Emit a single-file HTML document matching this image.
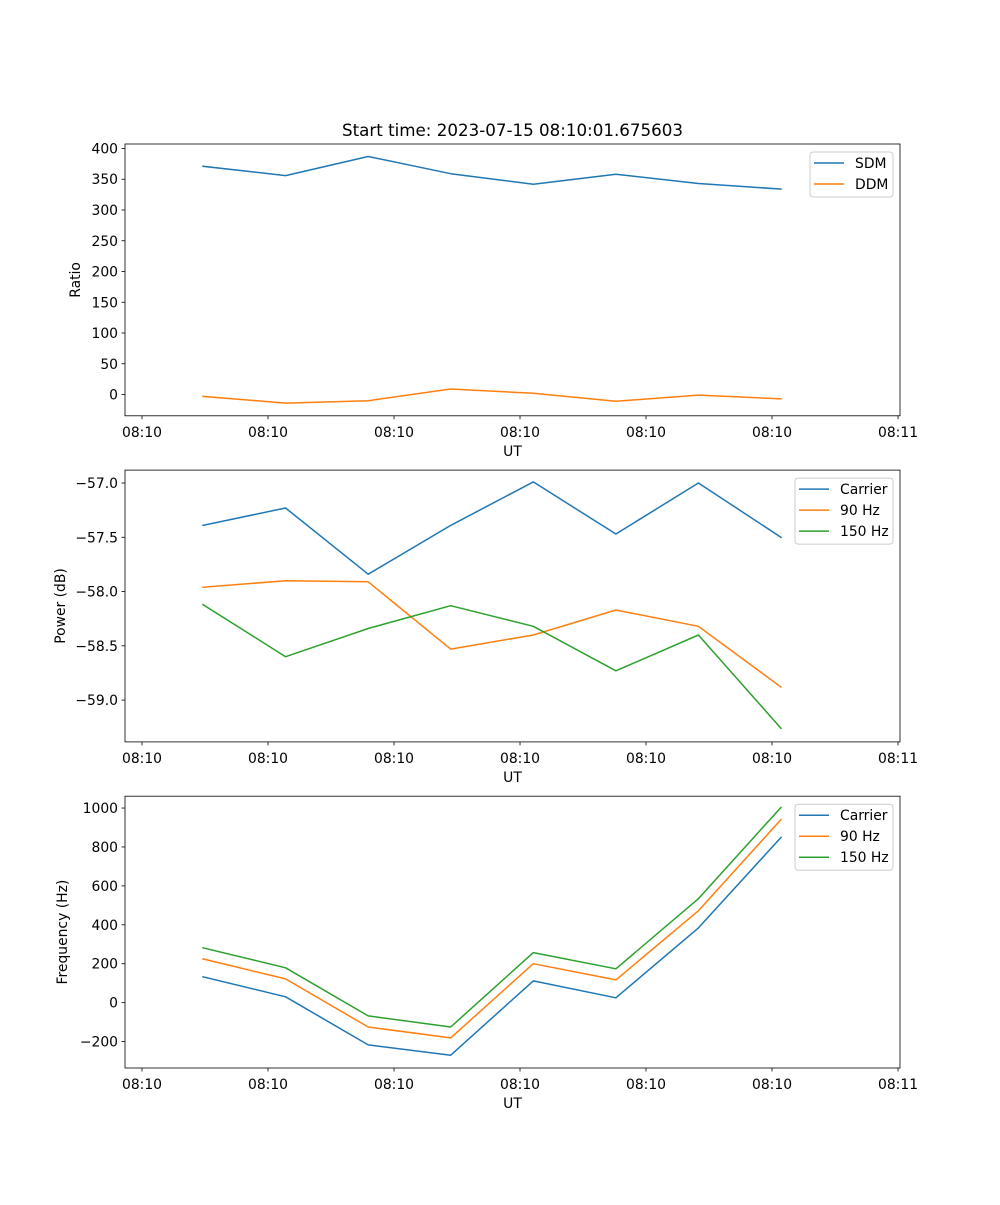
<!DOCTYPE html>
<html><head><meta charset="utf-8"><style>
html,body{margin:0;padding:0;background:#fff;}
svg text{font-family:"DejaVu Sans","Liberation Sans",sans-serif;fill:#000;}
</style></head><body>
<svg id="fig" width="1000" height="1200" xmlns="http://www.w3.org/2000/svg"></svg>
<script>
const xTickLabels = ["08:10","08:10","08:10","08:10","08:10","08:10","08:11"];
const sdm = [371,356,387,359,342,358,343,334];
const ddm = [-3,-14,-10,9,2,-11,-1,-7];
const powCarrier = [-57.39,-57.23,-57.84,-57.39,-56.99,-57.47,-57.0,-57.50];
const pow90 = [-57.96,-57.90,-57.91,-58.53,-58.40,-58.17,-58.32,-58.88];
const pow150 = [-58.12,-58.60,-58.34,-58.13,-58.32,-58.73,-58.40,-59.26];
const freqCarrier = [133,30,-217,-270,112,25,384,849];
const freq90 = [225,122,-125,-181,200,117,472,941];
const freq150 = [282,179,-68,-125,257,174,534,1003];
const ratioTicks = [0,50,100,150,200,250,300,350,400];
const powTicks = [-59.0,-58.5,-58.0,-57.5,-57.0];
const freqTicks = [-200,0,200,400,600,800,1000];

const NS="http://www.w3.org/2000/svg";
const svg=document.getElementById('fig');
function mk(tag,attrs,parent){const e=document.createElementNS(NS,tag);for(const k in attrs)e.setAttribute(k,attrs[k]);(parent||svg).appendChild(e);return e;}
const L=125,R=900;
const xmin=-0.945,xmax=8.441;
const xs=v=>L+(v-xmin)/(xmax-xmin)*(R-L);
const colors={b:"#1f77b4",o:"#ff7f0e",g:"#2ca02c"};

function axes(name,top,bot,ymin,ymax,yTicks,fmt,ylabel,series,legendW){
  const g=mk('g',{});
  
  
  const ys=v=>bot-(v-ymin)/(ymax-ymin)*(bot-top);
  xTickLabels.forEach((t,i)=>{
    const x=xs(-0.739+i*1.526);
    const tk=mk('line',{x1:x,x2:x,y1:bot,y2:bot+3.5,stroke:'#000','stroke-width':0.8},g);
    
    
    const tx=mk('text',{x:x,y:bot+21,'text-anchor':'middle','font-size':13.9},g);
    
    
    tx.textContent=t;
  });
  yTicks.forEach(v=>{
    const y=ys(v);
    const tk=mk('line',{x1:L-3.5,x2:L,y1:y,y2:y,stroke:'#000','stroke-width':0.8},g);
    
    
    const tx=mk('text',{x:L-7,y:y+5,'text-anchor':'end','font-size':13.9},g);
    
    
    tx.textContent=fmt(v);
  });
  const xl=mk('text',{x:(L+R)/2,y:bot+40,'text-anchor':'middle','font-size':13.9},g);
  
  
  xl.textContent='UT';
  const yl=mk('text',{x:0,y:0,'text-anchor':'middle','font-size':13.9,transform:`translate(${ylabel[1]},${(top+bot)/2}) rotate(-90)`},g);
  
  
  yl.textContent=ylabel[0];
  series.forEach(s=>{
    const d=s.data.map((v,i)=>(i?'L':'M')+xs(i).toFixed(1)+','+ys(v).toFixed(1)).join('');
    const p=mk('path',{d:d,fill:'none',stroke:s.c,'stroke-width':1.5,'stroke-linejoin':'round','stroke-linecap':'square'},g);
    
    
  });
  const fr=mk('rect',{x:L,y:top,width:R-L,height:bot-top,fill:'none',stroke:'#000','stroke-width':0.8},g);
  
  
  const lx=893-legendW, ly=top+8;
  const lg=mk('g',{},g);
  
  
  mk('rect',{x:lx,y:ly,width:legendW,height:series.length*21+3,rx:3,fill:'#fff','fill-opacity':0.8,stroke:'#ccc','stroke-width':1},lg);
  series.forEach((s,i)=>{
    const y=ly+11+i*21;
    const e=mk('g',{},lg);
    
    
    mk('line',{x1:lx+4,x2:lx+34,y1:y,y2:y,stroke:s.c,'stroke-width':1.5},e);
    const t=mk('text',{x:lx+45,y:y+5,'font-size':13.9},e);
    t.textContent=s.label;
  });
}
const t=mk('text',{x:512.5,y:136,'text-anchor':'middle','font-size':16.7});


t.textContent='Start time: 2023-07-15 08:10:01.675603';

axes('ratio-axes',144,415.8,-34.6,407.3,ratioTicks,v=>String(v),['Ratio',80],
  [{key:'sdm',data:sdm,c:colors.b,label:'SDM'},{key:'ddm',data:ddm,c:colors.o,label:'DDM'}],83);
axes('power-axes',470.1,741.9,-59.385,-56.881,powTicks,v=>v.toFixed(1).replace('-','\u2212'),['Power (dB)',65],
  [{key:'carrier',data:powCarrier,c:colors.b,label:'Carrier'},{key:'90hz',data:pow90,c:colors.o,label:'90 Hz'},{key:'150hz',data:pow150,c:colors.g,label:'150 Hz'}],98);
axes('frequency-axes',796.2,1068,-335.7,1060.8,freqTicks,v=>String(v).replace('-','\u2212'),['Frequency (Hz)',67],
  [{key:'carrier',data:freqCarrier,c:colors.b,label:'Carrier'},{key:'90hz',data:freq90,c:colors.o,label:'90 Hz'},{key:'150hz',data:freq150,c:colors.g,label:'150 Hz'}],98);
</script>
</body></html>
